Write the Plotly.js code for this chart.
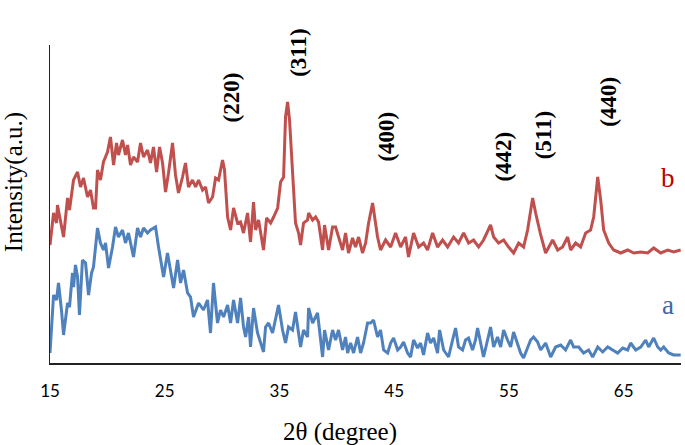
<!DOCTYPE html>
<html>
<head>
<meta charset="utf-8">
<script src="https://cdn.plot.ly/plotly-3.0.1.min.js"></script>
<style>
  body { margin: 0; background: #fff; }
  #xrd { width: 685px; height: 445px; }
</style>
</head>
<body>
<div id="xrd"></div>
<script>
// sample a (blue)
const thetaA = [15.0,15.22,15.31,15.57,15.74,16.0,16.18,16.53,16.7,16.96,17.05,17.22,17.4,17.57,17.83,18.1,18.36,18.62,18.79,19.14,
  19.4,19.66,19.84,20.1,20.45,20.71,20.97,21.32,21.58,21.84,22.28,22.63,22.89,23.15,23.5,23.76,24.2,24.46,24.9,25.24,
  25.51,25.77,26.12,26.38,26.64,26.99,27.25,27.51,27.95,28.38,28.73,28.99,29.25,29.6,29.86,30.13,30.48,30.74,31.0,31.35,
  31.61,31.87,32.05,32.31,32.48,32.74,33.09,33.35,33.61,33.79,34.05,34.4,34.66,34.92,35.27,35.53,35.79,36.14,36.4,36.67,
  36.84,37.1,37.45,37.54,37.89,38.32,38.58,38.76,38.93,39.28,39.63,39.89,40.15,40.5,40.76,40.94,41.2,41.46,41.81,42.07,
  42.33,42.68,42.94,43.2,43.55,43.81,44.08,44.43,44.69,44.95,45.3,45.56,45.82,46.17,46.43,46.69,47.04,47.3,47.56,47.91,
  48.17,48.44,48.78,48.96,49.31,49.74,50.09,50.35,50.61,50.96,51.22,51.48,51.83,52.09,52.27,52.53,52.79,53.14,53.4,53.67,
  54.01,54.28,54.54,54.88,55.15,55.41,55.76,56.02,56.28,56.63,56.89,57.15,57.5,57.77,58.2,58.64,59.07,59.51,59.94,60.38,
  60.64,61.08,61.51,61.95,62.3,62.74,63.17,63.61,64.04,64.48,64.92,65.35,65.61,66.05,66.49,66.92,67.18,67.62,67.97,68.23,
  68.49,68.93,69.36,69.97];
const intensityA = [10,53,68,63,80,53,28,60,56,90,76,98,86,48,103,100,68,90,96,135,
  120,113,120,95,116,136,126,133,120,130,106,135,126,135,130,133,136,116,86,110,
  93,75,103,80,93,70,66,46,60,53,63,30,80,40,53,46,58,40,63,40,
  65,36,26,46,16,55,30,20,11,36,40,30,46,58,33,20,36,33,51,30,
  16,33,26,55,40,50,26,6,33,13,33,23,33,13,26,10,20,10,26,10,
  20,40,40,43,26,33,13,10,20,25,13,16,21,10,6,23,15,20,8,30,
  20,25,10,33,13,6,23,35,16,13,23,25,13,23,35,20,6,23,36,16,
  26,16,33,23,16,31,20,10,5,16,23,26,21,13,20,6,16,18,13,23,
  16,16,10,13,6,16,11,16,13,10,15,13,20,13,16,23,16,25,16,13,
  16,10,8,8];

// sample b (red)
const thetaB = [15.0,15.31,15.57,15.65,16.18,16.53,16.7,17.05,17.4,17.66,17.92,18.27,18.53,18.79,18.97,19.14,19.4,19.66,20.01,20.27,
  20.54,20.8,20.97,21.32,21.58,21.76,22.02,22.28,22.63,22.89,23.15,23.5,23.76,24.02,24.29,24.55,24.81,25.07,25.33,25.68,
  25.94,26.2,26.55,26.81,27.07,27.42,27.69,27.95,28.3,28.56,28.82,29.17,29.43,29.69,30.04,30.21,30.48,30.74,31.0,31.35,
  31.61,31.87,32.22,32.48,32.74,32.92,33.18,33.61,33.88,34.23,34.49,34.84,35.1,35.36,35.53,35.71,35.88,36.14,36.4,36.67,
  36.84,37.1,37.45,37.54,37.89,38.15,38.41,38.76,38.93,39.28,39.63,39.89,40.15,40.5,40.76,41.02,41.37,41.63,41.9,42.24,
  42.51,42.77,43.12,43.38,43.55,43.81,44.25,44.69,45.12,45.56,45.99,46.25,46.69,47.13,47.56,47.91,48.35,48.78,49.22,49.66,
  50.18,50.61,51.05,51.49,51.92,52.36,52.79,53.4,53.67,54.1,54.54,54.97,55.41,55.85,56.28,56.63,57.07,57.33,57.77,58.2,
  58.81,59.25,59.68,60.12,60.38,60.82,61.25,61.69,62.12,62.39,62.74,63.0,63.26,63.7,64.13,64.74,65.35,65.88,66.49,67.1,
  67.62,68.23,68.84,69.36,69.97];
const intensityB = [118,150,140,158,126,165,153,183,191,176,185,166,173,155,155,193,183,201,211,226,
  198,220,208,223,208,218,198,206,201,220,206,213,200,216,191,216,200,171,190,220,
  188,170,186,200,176,183,176,183,173,176,160,166,185,183,203,193,146,133,155,140,
  141,130,150,121,161,133,143,113,145,140,146,155,181,186,246,261,243,186,140,130,
  118,140,143,150,143,146,141,113,138,113,136,136,126,113,130,110,125,116,126,110,
  120,140,160,140,126,113,123,116,130,116,126,106,130,116,120,113,130,116,123,116,
  126,120,130,120,123,116,123,138,126,120,123,116,110,120,116,133,165,150,128,110,
  123,113,116,126,113,120,116,130,133,146,186,163,133,120,113,110,113,110,111,110,
  115,110,113,111,113];

// reflections of the spinel phase (label heights in intensity units, top of axis = 318)
const hklLabels = ["(220)", "(311)", "(400)", "(442)", "(511)", "(440)"];
const hklTheta = [30.9, 36.6, 44.25, 54.45, 58.0, 63.7];
const hklY = [266, 311, 226, 206, 228, 261];
const yTop = 318;

const serif = "'Liberation Serif', 'Times New Roman', serif";

const traces = [
  {x: thetaA, y: intensityA, mode: "lines", name: "a",
   line: {color: "#4F81BD", width: 3}},
  {x: thetaB, y: intensityB, mode: "lines", name: "b",
   line: {color: "#C0504D", width: 3}}
];

const notes = hklLabels.map((t, i) => ({
  x: hklTheta[i], y: hklY[i] / yTop, xref: "x", yref: "paper", text: t,
  xanchor: "center", yanchor: "middle",
  textangle: -90, showarrow: false,
  font: {family: serif, size: 23, weight: "bold", color: "#000"}
}));
notes.push({x: 68.9, y: 185, xref: "x", yref: "y", text: "b", showarrow: false,
  font: {family: serif, size: 27, color: "#C00000"}});
notes.push({x: 68.9, y: 58, xref: "x", yref: "y", text: "a", showarrow: false,
  font: {family: serif, size: 27, color: "#3F68A8"}});
notes.push({x: -0.058, y: 0.57, xref: "paper", yref: "paper", xanchor: "center", yanchor: "middle",
  text: "Intensity(a.u.)", textangle: -90, showarrow: false,
  font: {family: serif, size: 25, color: "#000"}});
notes.push({x: 0.46, y: -0.217, xref: "paper", yref: "paper", xanchor: "center", yanchor: "middle",
  text: "2θ (degree)", showarrow: false, font: {family: serif, size: 25, color: "#000"}});

const layout = {
  width: 685, height: 445,
  margin: {l: 49.5, r: 4, t: 45, b: 82},
  showlegend: false,
  paper_bgcolor: "#fff", plot_bgcolor: "#fff",
  xaxis: {range: [15, 70], tick0: 15, dtick: 10, showgrid: false, zeroline: false,
    showline: true, linecolor: "#222", linewidth: 2,
    ticks: "outside", ticklen: 12, tickcolor: "rgba(0,0,0,0)",
    tickfont: {family: "Lato, 'Open Sans', sans-serif", size: 17, color: "#000"}},
  yaxis: {range: [0, yTop], showgrid: false, zeroline: false, showticklabels: false,
    showline: true, linecolor: "#222", linewidth: 1.5, ticks: ""},
  annotations: notes
};

Plotly.newPlot("xrd", traces, layout, {staticPlot: true});
</script>
</body>
</html>
